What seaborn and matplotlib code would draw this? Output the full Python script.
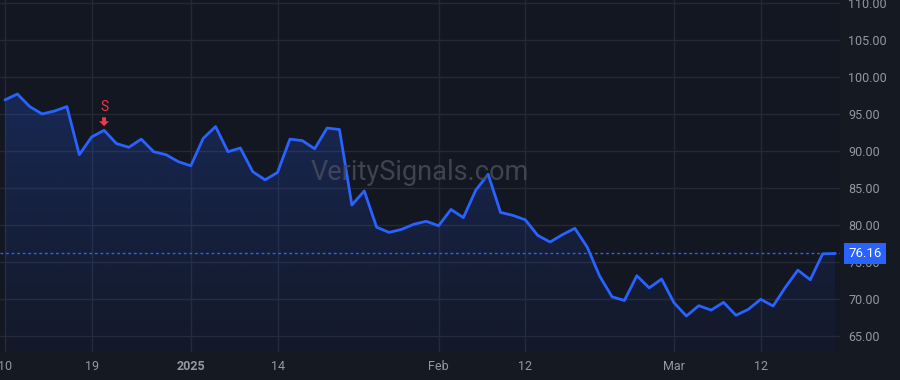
import numpy as np
import matplotlib
matplotlib.use("Agg")
import matplotlib.pyplot as plt
import matplotlib.transforms as mtransforms
from matplotlib.patches import Polygon
import seaborn as sns

# daily closes, trading days 2024-12-10 .. 2025-03-20
close = [96.9, 97.7, 96.0, 95.0, 95.4, 96.0, 89.5, 91.9, 92.8, 91.0,
         90.5, 91.6, 89.9, 89.5, 88.55, 88.0, 91.7, 93.3, 89.9, 90.4,
         87.2, 86.1, 87.1, 91.6, 91.4, 90.3, 93.1, 92.9, 82.7, 84.6,
         79.7, 79.0, 79.4, 80.1, 80.5, 79.9, 82.1, 81.0, 84.7, 86.85,
         81.7, 81.3, 80.7, 78.6, 77.7, 78.7, 79.55, 77.0, 73.1, 70.3,
         69.8, 73.15, 71.5, 72.7, 69.5, 67.7, 69.1, 68.5, 69.55, 67.8,
         68.6, 69.96, 69.05, 71.6, 73.9, 72.6, 76.1, 76.16]
idx = list(range(len(close)))

tick_idx = [0, 7, 15, 22, 35, 42, 54, 61]
tick_labels = ["10", "19", "2025", "14", "Feb", "12", "Mar", "12"]
y_ticks = [65, 70, 75, 80, 85, 90, 95, 100, 105, 110]

signal_idx = 8
signal_text = "S"
last_price = 76.16
watermark = "VeritySignals.com"

BG = "#131722"
GRID = "#252936"
BLUE = "#2962ff"
RED = "#f23645"
TXT = "#9598a1"

sns.set_theme(style="dark")
plt.rcParams["font.family"] = ["Roboto", "DejaVu Sans"]

fig = plt.figure(figsize=(9, 3.8), dpi=100, facecolor="#151922")
ax = fig.add_axes([0, 28 / 380, 840 / 900, 352 / 380])
ax.set_facecolor(BG)

ymin, ymax = 62.84, 110.4
xmin, xmax = -0.4, 67.4

sns.lineplot(x=idx, y=close, ax=ax, color=BLUE, linewidth=2, zorder=4)

# gradient area under the line
poly = ax.fill_between(idx, close, ymin, color="none", lw=0)
clip = poly.get_paths()[0]
top = max(close)
n = 256
rgba = np.zeros((n, 1, 4))
rgba[..., 0] = 41 / 255
rgba[..., 1] = 98 / 255
rgba[..., 2] = 1.0
rgba[..., 3] = np.linspace(0.03, 0.23, n).reshape(-1, 1)
im = ax.imshow(rgba, extent=[idx[0], idx[-1], ymin, top], origin="lower",
               aspect="auto", zorder=2)
im.set_clip_path(clip, transform=ax.transData)

ax.axhline(last_price, color=BLUE, lw=1, ls=(0, (2, 2)), zorder=3)

ax.set_xlim(xmin, xmax)
ax.set_ylim(ymin, ymax)

ax.set_xticks(tick_idx)
ax.set_xticklabels(tick_labels)
for lab in ax.get_xticklabels():
    if lab.get_text() == "2025":
        lab.set_fontweight("bold")
ax.set_yticks(y_ticks)
ax.set_yticklabels([f"{v:.2f}" for v in y_ticks])
ax.yaxis.tick_right()
ax.tick_params(axis="both", length=0, colors=TXT, labelsize=9)
ax.tick_params(axis="y", pad=6)
ax.tick_params(axis="x", pad=6)
for lab in ax.get_yticklabels():
    lab.set_horizontalalignment("left")

ax.grid(True, color=GRID, linewidth=1)
for s in ax.spines.values():
    s.set_visible(False)
ax.set_xlabel("")
ax.set_ylabel("")

# sell signal: block arrow (pixel offsets from the bar) + letter above it
sy = close[signal_idx]
px = mtransforms.Affine2D() + mtransforms.ScaledTranslation(signal_idx, sy, ax.transData)
arrow_shape = [(-2, 13), (2, 13), (2, 9), (5, 9), (0, 4), (-5, 9), (-2, 9)]
ax.add_patch(Polygon(arrow_shape, closed=True, transform=px, facecolor=RED,
                     edgecolor="none", zorder=6))
ax.annotate(signal_text, xy=(signal_idx, sy), xytext=(0, 23), textcoords="offset pixels",
            ha="center", va="center", color=RED, fontsize=10)

ax.text(0.5, 0.51, watermark, transform=ax.transAxes, ha="center", va="center",
        color="#474c5a", fontsize=19.5, alpha=0.85, zorder=5)

trans = mtransforms.blended_transform_factory(ax.transAxes, ax.transData)
ax.text(1.01, last_price, f"{last_price:.2f}", transform=trans, ha="left", va="center",
        color="white", fontsize=9.5, clip_on=False, zorder=6,
        bbox=dict(boxstyle="square,pad=0.32", facecolor=BLUE, edgecolor="none"))

fig.savefig("out.png", dpi=100, facecolor=fig.get_facecolor())
